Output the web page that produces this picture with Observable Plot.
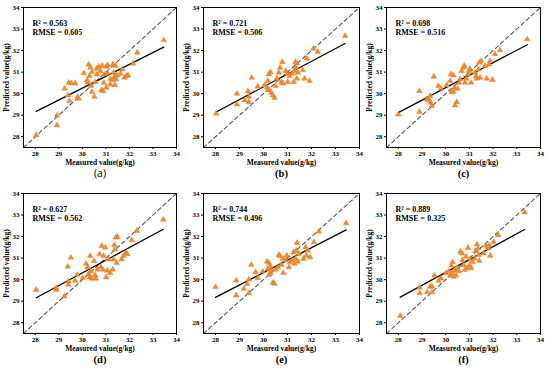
<!DOCTYPE html>
<html>
<head>
<meta charset="utf-8">
<script src="https://cdn.jsdelivr.net/npm/d3@7"></script>
<script src="https://cdn.jsdelivr.net/npm/@observablehq/plot@0.6"></script>
<style>
  html, body { margin: 0; padding: 0; background: #fff; }
  #wrap { position: relative; width: 550px; height: 375px; overflow: hidden; }
  .panel { position: absolute; }
</style>
</head>
<body>
<div id="wrap"></div>
<script>
// [measured, predicted] pairs per panel
const panelA = [[28.04,28.08],[28.92,28.99],[28.92,28.53],[29.25,30.23],[29.39,29.92],[29.42,30.51],[29.45,29.66],[29.53,30.48],[29.70,30.48],[29.80,29.84],[29.84,29.77],[30.06,30.95],[30.20,30.62],[30.24,30.51],[30.27,31.35],[30.30,30.82],[30.34,31.21],[30.37,30.36],[30.41,30.08],[30.41,31.01],[30.51,29.86],[30.55,30.54],[30.60,31.16],[30.62,30.90],[30.70,31.26],[30.77,31.05],[30.81,30.16],[30.84,31.29],[30.88,30.12],[30.91,30.51],[30.95,30.90],[31.02,31.26],[31.02,30.28],[31.08,31.32],[31.08,30.95],[31.19,30.43],[31.19,30.67],[31.30,31.36],[31.30,30.64],[31.33,30.98],[31.38,30.79],[31.38,30.40],[31.40,31.29],[31.43,30.67],[31.48,30.85],[31.62,30.93],[31.69,31.13],[31.79,30.74],[31.87,30.82],[31.94,30.85],[32.16,31.40],[32.33,31.91],[33.46,32.48]];
const panelB = [[28.03,29.07],[28.89,30.00],[28.89,29.50],[29.21,29.69],[29.35,30.12],[29.39,29.86],[29.39,29.61],[29.51,30.74],[29.76,30.33],[30.04,30.39],[30.18,30.59],[30.22,30.90],[30.29,31.00],[30.15,30.28],[30.25,30.17],[30.32,30.05],[30.39,29.92],[30.46,29.81],[30.50,30.36],[30.56,30.70],[30.64,30.98],[30.69,31.21],[30.78,31.47],[30.74,30.54],[30.81,30.48],[30.92,31.05],[30.99,30.93],[31.01,30.54],[31.08,30.82],[31.19,30.93],[31.26,30.54],[31.29,31.05],[31.33,31.47],[31.39,31.41],[31.36,31.21],[31.39,30.70],[31.43,30.98],[31.64,31.09],[31.71,30.70],[31.81,31.63],[31.92,30.59],[32.08,32.09],[32.26,31.94],[33.40,32.68]];
const panelC = [[28.00,29.04],[28.89,30.12],[28.89,29.16],[29.20,29.74],[29.29,29.71],[29.36,29.58],[29.41,29.43],[29.34,29.89],[29.50,30.79],[29.69,30.36],[29.80,30.23],[30.04,30.39],[30.18,30.59],[30.22,30.90],[30.32,30.85],[30.25,30.08],[30.32,30.08],[30.36,30.28],[30.39,29.46],[30.46,29.61],[30.50,30.23],[30.56,30.51],[30.60,30.67],[30.67,31.05],[30.74,31.21],[30.78,31.29],[30.81,30.51],[30.86,30.70],[30.95,30.90],[30.98,31.05],[31.02,31.16],[31.07,30.51],[31.24,30.98],[31.28,30.82],[31.31,30.70],[31.38,31.13],[31.42,31.44],[31.49,31.52],[31.45,30.74],[31.66,31.29],[31.73,30.70],[31.83,31.36],[31.87,31.52],[31.97,30.64],[32.08,31.83],[32.29,32.02],[33.44,32.53]];
const panelD = [[28.04,29.53],[28.89,29.61],[28.89,29.53],[29.23,29.22],[29.38,30.60],[29.51,31.02],[29.41,29.92],[29.41,29.77],[29.69,29.95],[29.79,30.23],[30.02,30.08],[30.16,30.74],[30.22,30.58],[30.26,30.27],[30.30,30.11],[30.33,31.10],[30.36,30.39],[30.40,30.05],[30.50,30.86],[30.54,30.20],[30.58,30.05],[30.64,30.47],[30.73,31.18],[30.78,30.58],[30.82,31.57],[30.87,30.47],[30.90,31.10],[30.97,31.49],[31.01,30.11],[31.06,30.42],[31.10,30.94],[31.18,30.31],[31.29,30.47],[31.32,30.94],[31.36,31.61],[31.43,31.96],[31.49,31.99],[31.39,31.41],[31.46,30.78],[31.67,30.94],[31.74,31.10],[31.86,31.25],[31.91,31.18],[32.10,31.83],[32.31,32.27],[33.44,32.79]];
const panelE = [[28.00,29.66],[28.86,29.96],[28.86,29.27],[29.18,29.58],[29.32,29.81],[29.39,30.01],[29.39,29.38],[29.49,30.69],[29.67,30.35],[29.76,30.07],[29.97,30.38],[30.15,30.84],[30.22,30.78],[30.18,30.50],[30.28,30.63],[30.29,30.32],[30.25,30.23],[30.32,30.43],[30.39,29.86],[30.46,29.81],[30.50,30.47],[30.60,30.58],[30.64,31.15],[30.69,31.09],[30.74,30.69],[30.81,30.97],[30.83,30.32],[30.92,30.89],[30.97,31.12],[31.06,30.58],[31.11,30.81],[31.19,30.89],[31.25,31.28],[31.29,30.74],[31.33,30.97],[31.36,31.35],[31.40,31.71],[31.43,30.84],[31.47,31.20],[31.67,30.97],[31.75,31.51],[31.78,31.12],[31.85,31.35],[31.94,31.04],[32.10,31.74],[32.31,32.23],[33.44,32.62]];
const panelF = [[28.08,28.32],[28.90,29.63],[28.90,29.37],[29.21,29.42],[29.35,29.68],[29.42,29.68],[29.42,29.42],[29.52,30.19],[29.70,29.94],[29.80,30.06],[30.01,30.30],[30.12,30.37],[30.19,30.19],[30.24,30.65],[30.29,30.81],[30.26,30.30],[30.33,30.14],[30.38,30.45],[30.43,30.19],[30.48,30.56],[30.55,30.40],[30.62,31.30],[30.69,31.22],[30.71,30.91],[30.76,30.68],[30.80,30.45],[30.86,31.07],[30.90,30.53],[30.94,31.48],[31.00,30.65],[31.04,30.91],[31.08,30.53],[31.14,30.81],[31.22,30.99],[31.25,31.33],[31.32,31.64],[31.36,31.45],[31.39,31.15],[31.42,30.87],[31.60,31.22],[31.70,31.58],[31.78,31.48],[31.84,31.58],[31.88,31.11],[32.02,31.76],[32.21,32.07],[33.33,33.12]];

const fitStartValues = [29.18, 29.15, 29.12, 29.16, 29.18, 29.19];
const fitEndValues   = [32.16, 32.33, 32.27, 32.34, 32.31, 32.33];
const r2Labels   = ["0.563", "0.721", "0.698", "0.627", "0.744", "0.889"];
const rmseLabels = ["0.605", "0.506", "0.516", "0.562", "0.496", "0.325"];
const captions   = ["(a)", "(b)", "(c)", "(d)", "(e)", "(f)"];
const tickValues = [28, 29, 30, 31, 32, 33, 34];
const axisDomain = [27.5, 34];

const panels = [panelA, panelB, panelC, panelD, panelE, panelF];

// layout: [left, width, marginLeft, marginRight]
const cols = [[0, 183, 23, 7], [180, 185, 23, 6], [363, 187, 23, 10]];
// [top, height]
const rows = [[0, 185], [186, 189]];

const wrap = document.getElementById("wrap");
const serif = "'Liberation Serif', 'Times New Roman', serif";

panels.forEach((pts, i) => {
  const col = cols[i % 3], row = rows[Math.floor(i / 3)];
  const data = pts.map(([x, y]) => ({x, y}));
  const xExt = d3.extent(data, d => d.x);
  const fit = [{x: xExt[0], y: fitStartValues[i]}, {x: xExt[1], y: fitEndValues[i]}];
  const diag = axisDomain.map(v => ({x: v, y: v}));
  const chart = Plot.plot({
    width: col[1],
    height: row[1],
    marginLeft: col[2],
    marginRight: col[3],
    marginTop: 7,
    marginBottom: row[1] - 7 - 140,
    style: {background: "transparent", overflow: "visible", fontFamily: serif, fontWeight: "bold", fontSize: "7px", color: "#000"},
    x: {domain: axisDomain},
    y: {domain: axisDomain},
    marks: [
      Plot.line(diag, {x: "x", y: "y", stroke: "#555", strokeWidth: 1.1, strokeDasharray: "4,3"}),
      Plot.line(fit, {x: "x", y: "y", stroke: "#000", strokeWidth: 1.3}),
      Plot.dot(data, {x: "x", y: "y", symbol: "triangle", r: 2.1, fill: "#F08A2C", stroke: "#E27A1E", strokeWidth: 0.4}),
      Plot.frame({stroke: "#000", strokeWidth: 1}),
      Plot.axisX({ticks: tickValues, tickFormat: d3.format("d"), tickSize: 2, tickPadding: 2, fontSize: 7, label: null}),
      Plot.axisX({ticks: [], label: "Measured value(g/kg)", labelAnchor: "center", labelArrow: "none", labelOffset: 17, fontSize: 7.5}),
      Plot.axisY({ticks: tickValues, tickFormat: d3.format("d"), tickSize: 2, tickPadding: 2, fontSize: 7, label: null}),
      Plot.axisY({ticks: [], label: "Predicted value(g/kg)", labelAnchor: "center", labelArrow: "none", labelOffset: 20, fontSize: 7.5}),
      Plot.text([`R² = ${r2Labels[i]}`], {frameAnchor: "top-left", dx: 9, dy: 13, text: d => d, textAnchor: "start", fontSize: 8, fontWeight: "bold", fontFamily: serif}),
      Plot.text([`RMSE = ${rmseLabels[i]}`], {frameAnchor: "top-left", dx: 9, dy: 21.5, text: d => d, textAnchor: "start", fontSize: 8, fontWeight: "bold", fontFamily: serif}),
      Plot.text([captions[i]], {frameAnchor: "bottom", dy: 29, text: d => d,
        fontSize: 10.5, fontWeight: i === 0 ? "normal" : "bold",
        fontFamily: i === 0 ? "'Open Sans', sans-serif" : serif})
    ]
  });
  const div = document.createElement("div");
  div.className = "panel";
  div.style.left = col[0] + "px";
  div.style.top = row[0] + "px";
  div.appendChild(chart);
  wrap.appendChild(div);
});
</script>
</body>
</html>
